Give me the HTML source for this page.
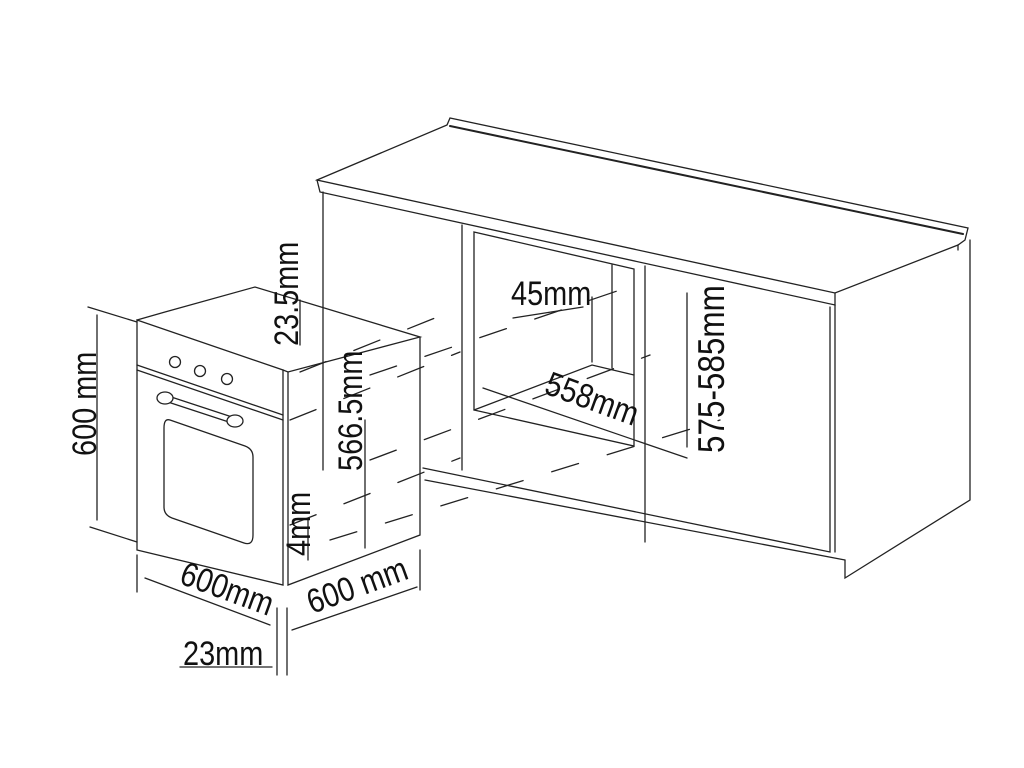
<!DOCTYPE html>
<html><head><meta charset="utf-8"><style>
html,body{margin:0;padding:0;background:#fff;width:1024px;height:768px;overflow:hidden}
svg text{font-family:"Liberation Sans",sans-serif;fill:#111;font-size:34px}
</style></head><body>
<svg width="1024" height="768" viewBox="0 0 1024 768" xmlns="http://www.w3.org/2000/svg">
<g fill="none" stroke="#222" stroke-width="1.3" stroke-linecap="round">
<path d="M317,180 L447,125 L450,118 L968,228 L965,240 L958,245 L835,293 L317,180 Z"/>
<path d="M450,126 L963,234" stroke-width="2"/>
<path d="M317,180 L320,192 L835,305 L835,293"/>
<path d="M958,245 L958,250"/>
<path d="M323,192 L323,470"/>
<path d="M970,240 L970,500 L845,578 L845,560"/>
<path d="M835,305 L835,552"/>
<path d="M830,307 L830,552 L423,468"/>
<path d="M425,480 L845,560"/>
<path d="M462,225 L462,470"/>
<path d="M474,232 L634,269 L634,446 L474,410 Z"/>
<path d="M612,265 L612,368"/>
<path d="M592,297 L592,362"/>
<path d="M474,410 L592,365 L634,375"/>
<path d="M645,266 L645,542"/>
<g stroke-dasharray="28 30">
<path d="M300,372 L460,308"/>
<path d="M290,420 L460,352"/>
<path d="M290,525 L460,458"/>
<path d="M370,375 L620,290"/>
<path d="M370,460 L650,355"/>
<path d="M330,540 L720,420"/>
</g>
<path d="M137,320 L283,370 L283,585 L137,550 Z"/>
<path d="M137,320 L165,312 L255,287 L420,337 L288,372 L283,370"/>
<path d="M288,372 L288,585 L420,535 L420,337"/>
<path d="M137,365 L283,415"/>
<path d="M137,370 L283,420"/>
<circle cx="175" cy="362" r="5.5"/><circle cx="200" cy="371" r="5.5"/><circle cx="227" cy="379" r="5.5"/>
<path d="M165,398 L235,421" stroke-width="7" stroke="#222"/>
<path d="M165,398 L235,421" stroke-width="4.5" stroke="#fff"/>
<ellipse cx="165" cy="398" rx="8" ry="6" fill="#fff"/>
<ellipse cx="235" cy="421" rx="8" ry="6" fill="#fff"/>
<path d="M170,420 L245,446 Q253,449 253,457 L253,535 Q253,546 244,543 L172,518 Q164,515 164,507 L164,428 Q164,418 170,420 Z"/>
<path d="M97,315 L97,520"/>
<path d="M88,307 L137,322"/><path d="M90,527 L137,542"/>
<path d="M137,555 L137,592"/>
<path d="M145,578 L270,625"/>
<path d="M277,608 L277,675"/><path d="M287,608 L287,675"/>
<path d="M180,667 L272,667"/>
<path d="M292,630 L417,587"/>
<path d="M420,550 L420,590"/>
<path d="M300,345 L300,300"/>
<path d="M308,520 L308,560"/>
<path d="M365,420 L365,548"/>
<path d="M513,318 L583,307"/>
<path d="M483,388 L687,458"/>
<path d="M687,293 L687,447"/>
</g>
<text transform="translate(96,456) rotate(-90) scale(0.85,1)">600 mm</text>
<text transform="translate(178,583) rotate(20) scale(0.85,1)">600mm</text>
<text transform="translate(183,665) scale(0.85,1)">23mm</text>
<text transform="translate(312,614) rotate(-20) scale(0.85,1)">600 mm</text>
<text transform="translate(298,346) rotate(-90) scale(0.85,1)">23.5mm</text>
<text transform="translate(362,471) rotate(-90) scale(0.85,1)">566.5mm</text>
<text transform="translate(310,556) rotate(-90) scale(0.85,1)">4mm</text>
<text transform="translate(511,305) scale(0.85,1)">45mm</text>
<text transform="translate(543,393) rotate(20) scale(0.85,1)">558mm</text>
<text style="font-size:37px" transform="translate(724,453) rotate(-90) scale(0.85,1)">575-585mm</text>
</svg>
</body></html>
